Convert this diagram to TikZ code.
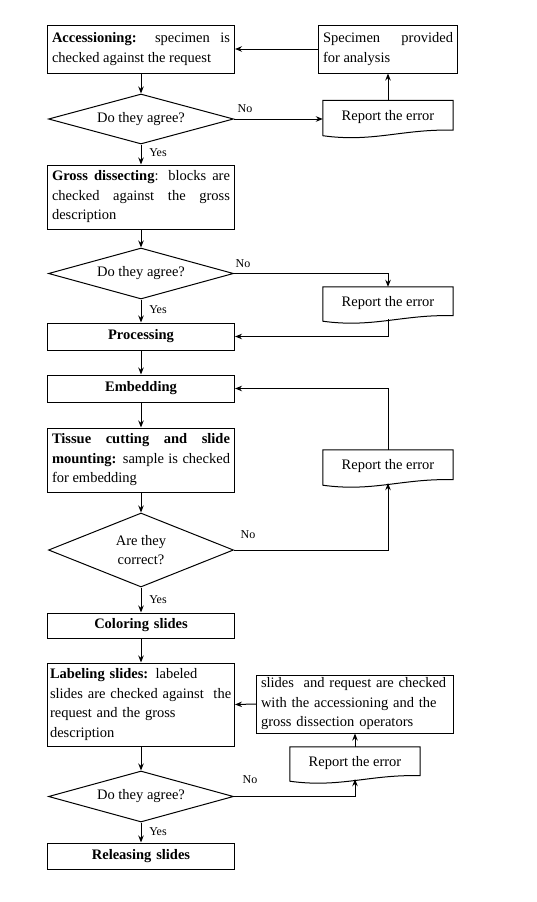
\documentclass[tikz,border=0pt]{standalone}
\usepackage{fontspec}
\setmainfont{Liberation Serif}
\usetikzlibrary{shapes.geometric,arrows.meta}
\newcommand\docoutline[1]{%
  \draw[lineb] ([yshift=-2pt]#1.south west) -- (#1.north west) -- (#1.north east)
    -- ([yshift=3.5pt]#1.south east)
    .. controls ([xshift=-50pt,yshift=5pt]#1.south east) and ([xshift=50pt,yshift=-9pt]#1.south west)
    .. ([yshift=-2pt]#1.south west) -- cycle;}
\tikzset{
  lineb/.style={line width=1pt},
  txt/.style={font=\fontsize{14.5}{19.5}\selectfont},
  procbox/.style={txt, draw, lineb, rectangle, text width=178pt, inner xsep=4.5pt, inner ysep=1pt, align=justify},
  centbox/.style={procbox, align=center, font=\fontsize{14.5}{19.5}\selectfont\bfseries},
  leftbox/.style={procbox, align=left},
  decision/.style={txt, draw, lineb, shape=diamond, shape aspect=3.7, inner sep=0pt, minimum width=185pt, minimum height=50pt, align=center},
  docnode/.style={txt, rectangle, minimum width=130pt, minimum height=33pt, inner sep=0pt},
  arr/.style={lineb, -{Stealth[length=7pt,width=5.5pt]}},
  lbl/.style={font=\fontsize{12}{14}\selectfont, inner sep=0pt}
}
\begin{document}
\begin{tikzpicture}[x=1pt,y=-1pt]
\path[use as bounding box] (0,0) rectangle (536,902);

% main column
\node[procbox, minimum height=48pt] (acc) at (141,49) {\textbf{Accessioning:} specimen is\linebreak checked against the request};
\node[procbox, text width=130pt, minimum height=48pt] (spec) at (388,49) {Specimen provided\linebreak for analysis};
\node[decision] (d1) at (141,119) {Do they agree?};
\node[docnode] (r1) at (388,117) {Report the error};
\docoutline{r1}

\node[procbox, minimum height=64pt] (gross) at (141,197) {\textbf{Gross dissecting}: blocks are\linebreak checked against the gross\linebreak description};
\node[decision, minimum height=51pt] (d2) at (141,273.5) {Do they agree?};
\node[docnode, minimum height=32pt] (r2) at (388,303) {Report the error};
\docoutline{r2}

\node[centbox, minimum height=27pt] (proc) at (141,336.5) {Processing};
\node[centbox, minimum height=27pt] (emb) at (141,388.5) {Embedding};
\node[procbox, minimum height=64pt] (tis) at (141,460) {\textbf{Tissue cutting and slide}\linebreak \textbf{mounting:} sample is checked\linebreak for embedding};
\node[decision, minimum height=74pt] (d3) at (141,550) {Are they\\correct?};
\node[docnode] (r3) at (388,466.5) {Report the error};
\docoutline{r3}

\node[centbox, minimum height=25pt] (col) at (141,625.5) {Coloring slides};
\node[leftbox, text width=182pt, inner xsep=2.5pt, minimum height=83pt] (lab) at (141,704.5) {\textbf{Labeling slides:} labeled\\slides are checked against\ \ the\\request and the gross\\description};
\node[leftbox, text width=188pt, minimum height=58pt] (slides) at (355,704) {slides\ \ and request are checked\\with the accessioning and the\\gross dissection operators};
\node[docnode, minimum height=32pt] (r4) at (355,763) {Report the error};
\docoutline{r4}
\node[decision, minimum height=51pt] (d4) at (141,796.5) {Do they agree?};
\node[centbox, minimum height=26pt] (rel) at (141,856) {Releasing slides};

% labels
\node[lbl] (no1) at (245,109) {No};
\node[lbl] (no2) at (243,264) {No};
\node[lbl] (no3) at (248,535) {No};
\node[lbl] (no4) at (250,780) {No};
\node[lbl] (yes1) at (158,153) {Yes};
\node[lbl] (yes2) at (158,310) {Yes};
\node[lbl] (yes3) at (158,600) {Yes};
\node[lbl] (yes4) at (158,832) {Yes};

% connectors
\draw[arr] (spec.west) -- (acc.east);
\draw[arr] (acc.south) -- (d1.north);
\draw[arr] (d1.east) -- (d1.east -| r1.west);
\draw[arr] (r1.north) -- (spec.south);
\draw[arr] (d1.south) -- (gross.north);
\draw[arr] (gross.south) -- (d2.north);
\draw[arr] (d2.east) -| (r2.north);
\draw[arr] (d2.south) -- (proc.north);
\draw[arr] (r2.south) |- (proc.east);
\draw[arr] (proc.south) -- (emb.north);
\draw[arr] (emb.south) -- (tis.north);
\draw[arr] (tis.south) -- (d3.north);
\draw[arr] (d3.east) -| (r3.south);
\draw[arr] (r3.north) |- (emb.east);
\draw[arr] (d3.south) -- (col.north);
\draw[arr] (col.south) -- (lab.north);
\draw[arr] (slides.west) -- (lab.east);
\draw[arr] (r4.north) -- (slides.south);
\draw[arr] (lab.south) -- (d4.north);
\draw[arr] (d4.east) -| (r4.south);
\draw[arr] (d4.south) -- (rel.north);
\end{tikzpicture}
\end{document}
